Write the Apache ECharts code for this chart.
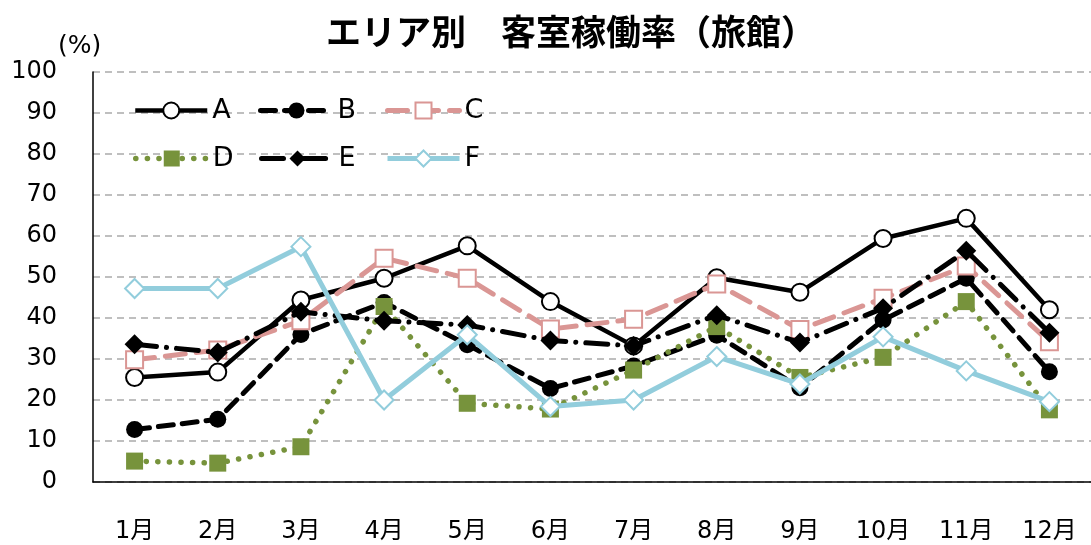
<!DOCTYPE html>
<html>
<head>
<meta charset="utf-8">
<script src="https://cdn.jsdelivr.net/npm/echarts@6/dist/echarts.min.js"></script>
<style>
  html, body { margin: 0; padding: 0; background: #fff; }
  #chart { width: 1091px; height: 545px; }
</style>
</head>
<body>
<div id="chart"></div>
<script>
var months = ['1月', '2月', '3月', '4月', '5月', '6月', '7月', '8月', '9月', '10月', '11月', '12月'];
var seriesA = [25.5, 26.8, 44.4, 49.7, 57.6, 44.0, 33.2, 49.8, 46.3, 59.4, 64.3, 42.0];
var seriesB = [12.8, 15.3, 36.0, 43.8, 33.5, 22.8, 28.3, 35.8, 23.0, 39.5, 49.7, 26.9];
var seriesC = [29.8, 32.2, 39.3, 54.6, 49.7, 37.3, 39.7, 48.3, 37.2, 44.8, 52.7, 34.2];
var seriesD = [5.1, 4.6, 8.6, 42.8, 19.2, 17.8, 27.3, 37.9, 25.5, 30.4, 44.0, 17.6];
var seriesE = [33.6, 31.6, 41.5, 39.3, 38.3, 34.5, 33.2, 40.7, 34.0, 42.4, 56.4, 36.4];
var seriesF = [47.2, 47.2, 57.4, 20.0, 35.9, 18.4, 20.0, 30.6, 23.9, 35.4, 27.1, 19.6];

var font = "'DejaVu Sans', 'Noto Sans CJK JP', sans-serif";
var pink = '#DA9694';
var green = '#77933C';
var blue = '#92CDDC';

// line style of each series, reused for the legend icons
var styleA = { color: '#000', width: 4.5 };
var styleB = { color: '#000', width: 5, type: [15, 9], cap: 'round' };
var styleC = { color: pink, width: 5, type: [20, 11], cap: 'round' };
var styleD = { color: green, width: 5.5, type: [0.1, 11.5], cap: 'round' };
var styleE = { color: '#000', width: 5, type: [22, 10, 0.1, 10], cap: 'round' };
var styleF = { color: blue, width: 5 };

var chart = echarts.init(document.getElementById('chart'));

function legendAt(name, left, top, lineStyle) {
    return {
        left: left,
        top: top,
        padding: 0,
        itemWidth: 72,
        itemHeight: 20,
        textStyle: { fontFamily: font, fontSize: 27, color: '#000' },
        data: [{ name: name, lineStyle: lineStyle }]
    };
}

var option = {
    animation: false,
    title: [
        {
            text: 'エリア別　客室稼働率（旅館）',
            left: 326,
            top: 14,
            padding: 0,
            textStyle: {
                fontFamily: "'Noto Sans CJK JP', sans-serif",
                fontSize: 35,
                fontWeight: 'bold',
                color: '#000'
            }
        },
        {
            text: '(%)',
            left: 58,
            top: 34,
            padding: 0,
            textStyle: { fontFamily: font, fontSize: 25, fontWeight: 'normal', color: '#000' }
        }
    ],
    legend: [
        legendAt('A', 133, 97, styleA),
        legendAt('B', 258, 97, styleB),
        legendAt('C', 385, 97, styleC),
        legendAt('D', 133, 145, styleD),
        legendAt('E', 259, 145, styleE),
        legendAt('F', 385, 145, styleF)
    ],
    grid: { left: 93, right: -2, top: 72, bottom: 63 },
    xAxis: {
        type: 'category',
        data: months,
        boundaryGap: true,
        axisLine: { lineStyle: { color: '#000', width: 1.5 } },
        axisTick: { show: false },
        axisLabel: { margin: 38, fontFamily: font, fontSize: 24, color: '#000' }
    },
    yAxis: {
        type: 'value',
        min: 0,
        max: 100,
        interval: 10,
        axisLine: { show: true, lineStyle: { color: '#000', width: 1.5 } },
        axisTick: { show: false },
        axisLabel: { margin: 36, fontFamily: font, fontSize: 24, color: '#000' },
        splitLine: { lineStyle: { color: '#BFBFBF', width: 2, type: [7, 5] } }
    },
    series: [
        {
            name: 'A', type: 'line', data: seriesA, z: 2,
            symbol: 'circle', symbolSize: 17,
            lineStyle: styleA,
            itemStyle: { color: '#fff', borderColor: '#000', borderWidth: 2 }
        },
        {
            name: 'B', type: 'line', data: seriesB, z: 3,
            symbol: 'circle', symbolSize: 17,
            lineStyle: styleB,
            itemStyle: { color: '#000' }
        },
        {
            name: 'C', type: 'line', data: seriesC, z: 4,
            symbol: 'rect', symbolSize: 17,
            lineStyle: styleC,
            itemStyle: { color: '#fff', borderColor: pink, borderWidth: 2 }
        },
        {
            name: 'D', type: 'line', data: seriesD, z: 5,
            symbol: 'rect', symbolSize: 17,
            lineStyle: styleD,
            itemStyle: { color: green }
        },
        {
            name: 'E', type: 'line', data: seriesE, z: 6,
            symbol: 'diamond', symbolSize: 20,
            lineStyle: styleE,
            itemStyle: { color: '#000' }
        },
        {
            name: 'F', type: 'line', data: seriesF, z: 7,
            symbol: 'diamond', symbolSize: 19,
            lineStyle: styleF,
            itemStyle: { color: '#fff', borderColor: blue, borderWidth: 2 }
        }
    ]
};

chart.setOption(option);
</script>
</body>
</html>
